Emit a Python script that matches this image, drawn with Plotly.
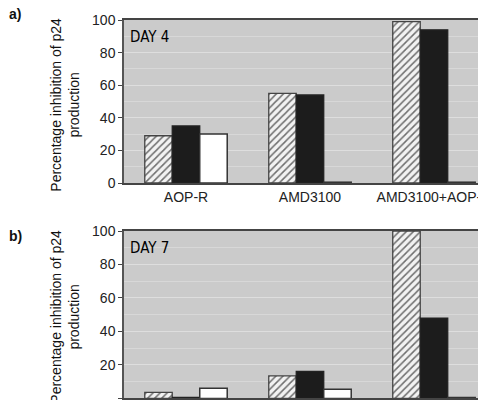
import plotly.graph_objects as go

categories = ["AOP-R", "AMD3100", "AMD3100+AOP-R"]
series_names = ["Series 1", "Series 2", "Series 3"]
day4_values = [
    [29, 55, 99],    # hatched
    [35, 54, 94],    # black
    [30, 0.5, 0.5],  # white
]
day7_values = [
    [3.6, 13.4, 100],
    [0.6, 16.2, 48],
    [6, 5.4, 0.5],
]
panel_titles = ["DAY 4", "DAY 7"]
panel_labels = ["a)", "b)"]
y_ticks = [0, 20, 40, 60, 80, 100]
y_title = "Percentage inhibition of p24<br>production"

FONT = "Liberation Sans, Arial, sans-serif"
bar_styles = [
    dict(color="#f2f2f2", line=dict(color="#444", width=1.3),
         pattern=dict(shape="/", fgcolor="#6e6e6e", bgcolor="#f2f2f2", size=5, solidity=0.3)),
    dict(color="#1c1c1c", line=dict(color="#222", width=1.3)),
    dict(color="#ffffff", line=dict(color="#333", width=1.5)),
]

fig = go.Figure()
for p, values in enumerate([day4_values, day7_values]):
    xa = "x" if p == 0 else "x2"
    ya = "y" if p == 0 else "y2"
    for s, vals in enumerate(values):
        fig.add_trace(go.Bar(
            x=categories, y=vals, name=series_names[s], marker=bar_styles[s],
            xaxis=xa, yaxis=ya, showlegend=False, offsetgroup=str(s),
        ))

axis_common_y = dict(
    range=[0, 100], tickvals=y_ticks, ticks="outside", ticklen=4, tickcolor="#444",
    showline=True, linecolor="#555", linewidth=1.5, mirror=True,
    showgrid=True, gridcolor="#dedede", gridwidth=1,
    minor=dict(dtick=10, showgrid=True, gridcolor="#d8d8d8", gridwidth=1),
    tickfont=dict(family=FONT, size=14, color="#222"), automargin=False, zeroline=False,
)
axis_common_x = dict(
    range=[-0.5, 2.355], showline=True, linecolor="#444", linewidth=2, mirror=True,
    ticks="", showgrid=False, tickfont=dict(family=FONT, size=14, color="#222"),
    automargin=False, type="category",
)

fig.update_layout(
    width=478, height=400, margin=dict(l=124, r=0, t=0, b=0),
    paper_bgcolor="white", plot_bgcolor="#cbcbcb",
    barmode="group", bargap=0.335, bargroupgap=0,
    template="none",
    xaxis=dict(axis_common_x, domain=[0, 1], anchor="y"),
    yaxis=dict(axis_common_y, domain=[0.5425, 0.95], anchor="x"),
    xaxis2=dict(axis_common_x, domain=[0, 1], anchor="y2"),
    yaxis2=dict(axis_common_y, domain=[0.004, 0.4225], anchor="x2"),
)

annotations = []
for p, (lab_y, title_y) in enumerate([(0.99, 0.738), (0.435, 0.208)]):
    yref_axis = "y domain" if p == 0 else "y2 domain"
    xref_axis = "x domain" if p == 0 else "x2 domain"
    annotations.append(dict(
        text=panel_titles[p], xref=xref_axis, yref=yref_axis, x=0.01, y=0.965,
        xanchor="left", yanchor="top", showarrow=False,
        font=dict(family="DejaVu Sans Condensed, Liberation Sans Narrow, sans-serif", size=15, color="#000"),
    ))
    annotations.append(dict(
        text="<b>" + panel_labels[p] + "</b>", xref="paper", yref="paper",
        x=-0.33, y=lab_y, xanchor="left", yanchor="top", showarrow=False,
        font=dict(family=FONT, size=14, color="#111"),
    ))
    annotations.append(dict(
        text=y_title, xref="paper", yref="paper", x=-0.167, y=title_y,
        xanchor="center", yanchor="middle", textangle=-90, showarrow=False,
        font=dict(family=FONT, size=14, color="#111"),
    ))
fig.update_layout(annotations=annotations)

fig.write_html("out.html")
